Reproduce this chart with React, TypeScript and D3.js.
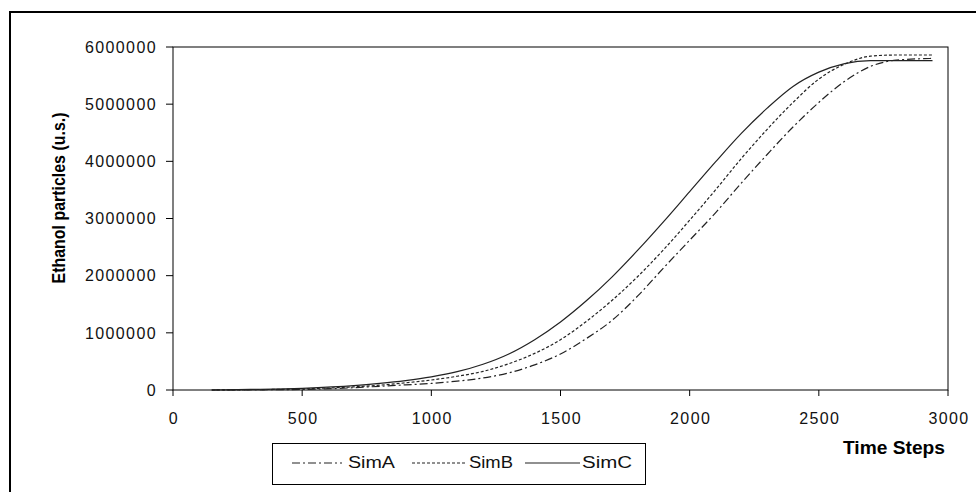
import React from 'react'
import * as d3 from 'd3'

const timeSteps = [150, 300, 500, 700, 800, 900, 1000, 1100, 1200, 1300, 1400, 1500, 1600, 1700, 1800, 1900, 2000, 2100, 2200, 2300, 2400, 2500, 2600, 2700, 2800, 2940]
const simA = [0, 3000, 10000, 40000, 65000, 90000, 115000, 155000, 210000, 300000, 440000, 630000, 900000, 1220000, 1650000, 2140000, 2620000, 3100000, 3620000, 4120000, 4600000, 5030000, 5400000, 5660000, 5770000, 5800000]
const simB = [0, 5000, 20000, 55000, 85000, 125000, 175000, 240000, 325000, 460000, 640000, 880000, 1200000, 1570000, 1990000, 2460000, 2970000, 3500000, 4050000, 4560000, 5030000, 5440000, 5700000, 5840000, 5860000, 5860000]
const simC = [0, 10000, 30000, 75000, 115000, 165000, 230000, 320000, 450000, 630000, 880000, 1190000, 1560000, 1980000, 2450000, 2950000, 3470000, 3990000, 4490000, 4930000, 5310000, 5560000, 5710000, 5760000, 5760000, 5760000]
const seriesNames = ['SimA', 'SimB', 'SimC']
const xTicks = [0, 500, 1000, 1500, 2000, 2500, 3000]
const yTicks = [0, 1000000, 2000000, 3000000, 4000000, 5000000, 6000000]

const width = 976
const height = 492
const plot = { left: 173, top: 47, right: 948, bottom: 390 }
const ink = '#222'
const tickFont = "'Liberation Sans', Arial, sans-serif"
const titleFont = "'Liberation Sans Narrow', 'Arial Narrow', 'Liberation Sans', Arial, sans-serif"

// dash style per series, legend slot positions
const dashes = ['8,3,2,3', '3,2', null]
const legendSlots = [
  { x0: 292, x1: 342, tx: 348, tl: 47 },
  { x0: 412, x1: 467, tx: 469, tl: 44 },
  { x0: 525, x1: 580, tx: 582, tl: 50 },
]

export default function App() {
  const x = d3.scaleLinear().domain([0, 3000]).range([plot.left, plot.right])
  const y = d3.scaleLinear().domain([0, 6000000]).range([plot.bottom, plot.top])
  const line = d3.line<number>()
    .x((d, i) => x(timeSteps[i]))
    .y(d => y(d))
    .curve(d3.curveMonotoneX)
  const fmt = d3.format('d')
  const data = [simA, simB, simC]

  return (
    <svg width={width} height={height} style={{ position: 'absolute', left: 0, top: 0, display: 'block', background: '#fff' }}>
      {/* outer frame, cut off at right and bottom */}
      <rect x={10} y={12} width={width + 20} height={height + 20} fill='#fff' stroke='#000' strokeWidth={2} />

      <rect x={plot.left} y={plot.top} width={plot.right - plot.left} height={plot.bottom - plot.top}
        fill='none' stroke='#000' strokeWidth={1} />

      {yTicks.map(t => (
        <g key={'y' + t}>
          <line x1={plot.left - 7} x2={plot.left} y1={y(t)} y2={y(t)} stroke='#000' />
          <text x={plot.left - 16} y={y(t)} dy='0.36em' textAnchor='end' fontFamily={tickFont}
            fontSize={16} letterSpacing={1.4} fill='#111'>{fmt(t)}</text>
        </g>
      ))}
      {xTicks.map(t => (
        <g key={'x' + t}>
          <line x1={x(t)} x2={x(t)} y1={plot.bottom} y2={plot.bottom + 6} stroke='#000' />
          <text x={x(t) + 1} y={424} textAnchor='middle' fontFamily={tickFont}
            fontSize={16} letterSpacing={1.4} fill='#111'>{fmt(t)}</text>
        </g>
      ))}

      {data.map((vals, i) => (
        <path key={seriesNames[i]} d={line(vals) || ''} fill='none' stroke={ink} strokeWidth={1.2}
          strokeDasharray={dashes[i] || undefined} />
      ))}

      <text transform='translate(65,198) rotate(-90)' textAnchor='middle' fontFamily={titleFont}
        fontWeight='bold' fontSize={19} textLength={171} lengthAdjust='spacingAndGlyphs' fill='#000'>
        Ethanol particles (u.s.)
      </text>
      <text x={843} y={454} fontFamily={titleFont} fontWeight='bold' fontSize={18}
        textLength={102} lengthAdjust='spacingAndGlyphs' fill='#000'>Time Steps</text>

      <rect x={272.5} y={443.5} width={373} height={41} fill='#fff' stroke='#000' strokeWidth={1} />
      {seriesNames.map((name, i) => {
        const s = legendSlots[i]
        return (
          <g key={'lg' + name}>
            <line x1={s.x0} x2={s.x1} y1={463} y2={463} stroke={ink} strokeWidth={1.2}
              strokeDasharray={dashes[i] || undefined} />
            <text x={s.tx} y={468} fontFamily={tickFont} fontSize={16} textLength={s.tl}
              lengthAdjust='spacingAndGlyphs' fill='#111'>{name}</text>
          </g>
        )
      })}
    </svg>
  )
}
